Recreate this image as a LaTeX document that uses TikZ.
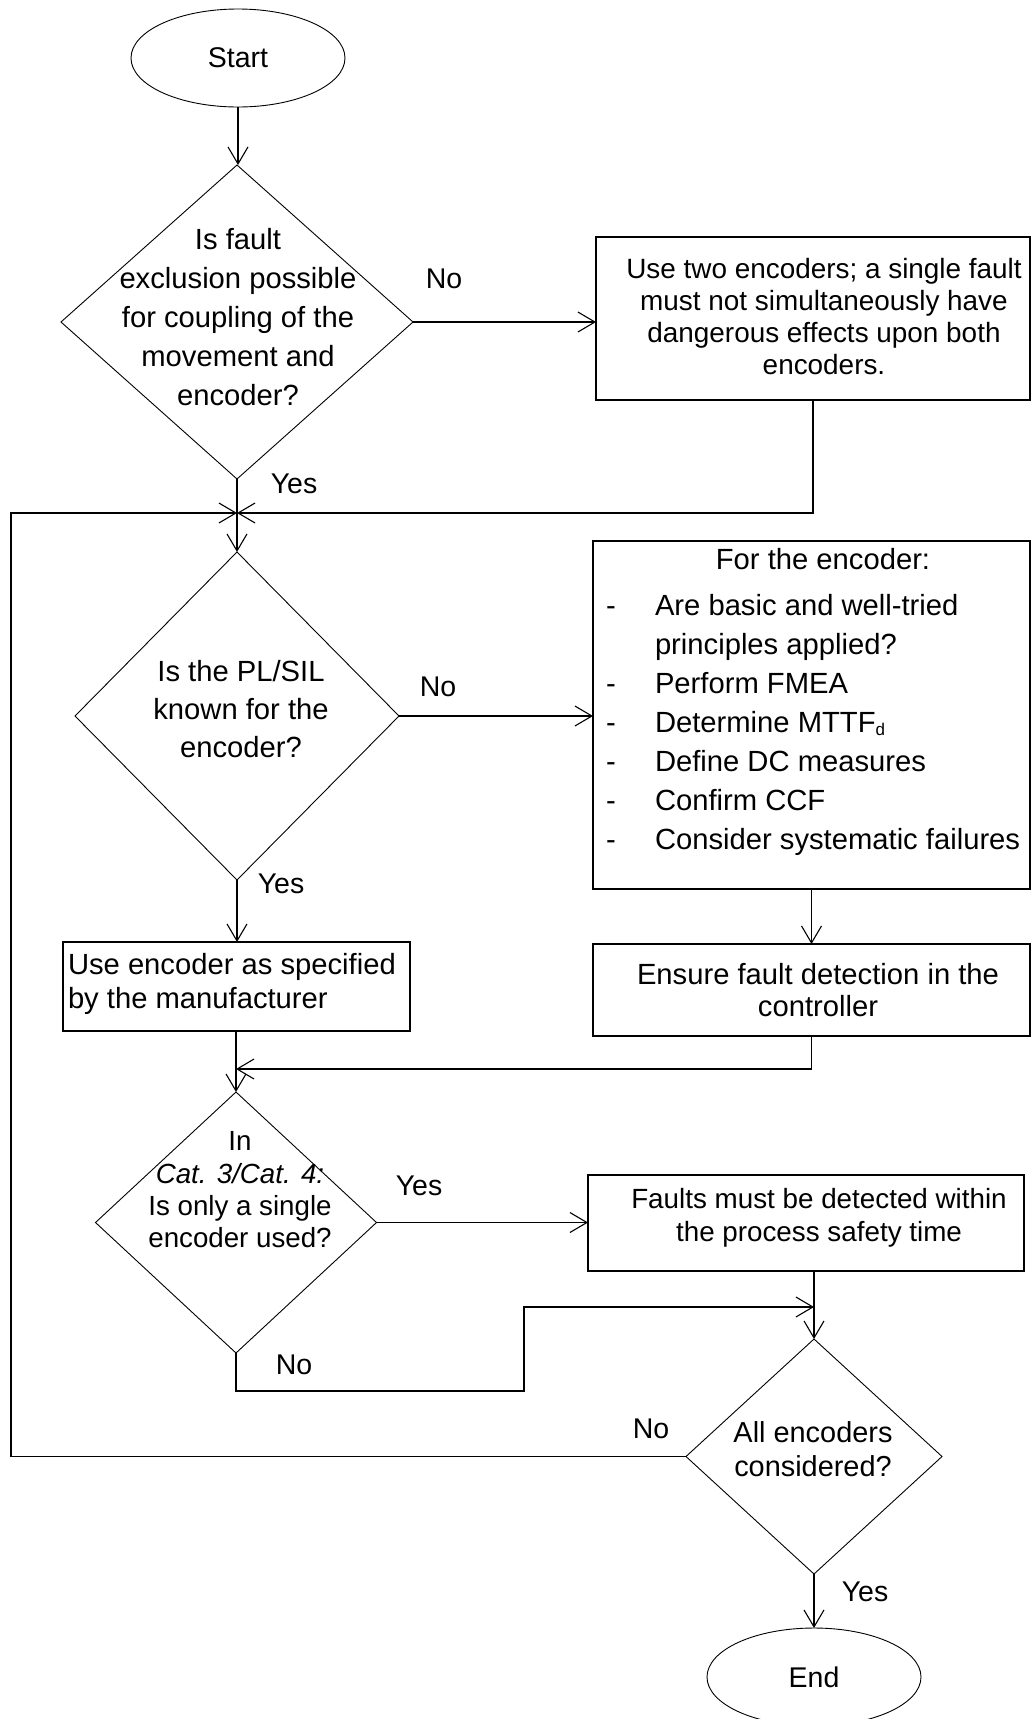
\documentclass[tikz,border=0pt]{standalone}
\usepackage{fontspec}
\setmainfont{Liberation Sans}
\usetikzlibrary{shapes.geometric,arrows.meta,calc}

\begin{document}
\begin{tikzpicture}[x=1pt,y=-1pt,
  every node/.style={inner sep=0pt, outer sep=0pt},
  terminal/.style={ellipse, draw, line width=0.9pt, minimum width=214pt,
    minimum height=98pt, font=\fontsize{28.5}{33}\selectfont},
  decision/.style={diamond, draw, line width=0.9pt},
  stepbox/.style={rectangle, draw, line width=1.3pt},
  txt/.style={align=center},
  answer/.style={font=\fontsize{28.5}{33}\selectfont},
  flow/.style={line width=1.3pt, -{Straight Barb[length=17pt,width=20pt,line width=1.1pt]}},
]
\path[use as bounding box] (0,0) rectangle (1032,1719);

% terminals
\node[terminal] (start) at (238,58) {Start};
\node[terminal] (stop) at (814,1677) {End};

% first decision and its "No" branch
\node[decision, minimum width=352pt, minimum height=314pt] (d1) at (237,322) {};
\node[txt, font=\fontsize{29.2}{39.2}\selectfont] (d1q) at (238,317)
  {Is fault\\exclusion possible\\for coupling of the\\movement and\\encoder?};
\node[stepbox, minimum width=434pt, minimum height=163pt] (b1) at (813,318.5) {};
\node[txt, font=\fontsize{27.9}{32}\selectfont] (b1t) at (824,317)
  {Use two encoders; a single fault\\must not simultaneously have\\dangerous effects upon both\\encoders.};

% second decision
\node[decision, minimum width=324pt, minimum height=328pt] (d2) at (237,716) {};
\node[txt, font=\fontsize{29.2}{38}\selectfont] (d2q) at (241,709)
  {Is the PL/SIL\\known for the\\encoder?};
\node[stepbox, minimum width=437pt, minimum height=348pt] (b2) at (811.5,715) {};
\node[font=\fontsize{29.2}{35}\selectfont] (b2h) at (823,559) {For the encoder:};
\node[anchor=west, align=left, font=\fontsize{29.2}{38.9}\selectfont] (b2list) at (606,725)
  {\makebox[49pt][l]{-}Are basic and well-tried\\
   \hspace*{49pt}principles applied?\\
   \makebox[49pt][l]{-}Perform FMEA\\
   \makebox[49pt][l]{-}Determine MTTF{\fontsize{17}{20}\selectfont\raisebox{-3pt}{d}}\\
   \makebox[49pt][l]{-}Define DC measures\\
   \makebox[49pt][l]{-}Confirm CCF\\
   \makebox[49pt][l]{-}Consider systematic failures};
\node[stepbox, minimum width=347pt, minimum height=89pt] (b3) at (236.5,986.5) {};
\node[anchor=west, align=left, font=\fontsize{29.2}{34}\selectfont] (b3t) at (68,984)
  {Use encoder as specified\\by the manufacturer};
\node[stepbox, minimum width=437pt, minimum height=92pt] (b4) at (811.5,990) {};
\node[txt, font=\fontsize{29.2}{32.5}\selectfont] (b4t) at (818,990)
  {Ensure fault detection in the\\controller};

% third decision
\node[decision, minimum width=281pt, minimum height=261pt] (d3) at (236,1222.5) {};
\node[txt, font=\fontsize{27.7}{32.3}\selectfont] (d3q) at (240,1190)
  {In\\\textit{Cat. 3/Cat. 4:}\\Is only a single\\encoder used?};
\node[stepbox, minimum width=436pt, minimum height=96pt] (b5) at (806,1223) {};
\node[txt, font=\fontsize{27.8}{33}\selectfont] (b5t) at (819,1218)
  {Faults must be detected within\\the process safety time};

% fourth decision
\node[decision, minimum width=256pt, minimum height=235pt] (d4) at (814,1456.5) {};
\node[txt, font=\fontsize{28.9}{34.5}\selectfont] (d4q) at (813,1449)
  {All encoders\\considered?};

% branch labels
\node[answer] (l1no) at (444,279) {No};
\node[answer] (l1yes) at (294,484) {Yes};
\node[answer] (l2no) at (438,687) {No};
\node[answer] (l2yes) at (281,884) {Yes};
\node[answer] (l3yes) at (419,1186) {Yes};
\node[answer] (l3no) at (294,1365) {No};
\node[answer] (l4no) at (651,1429) {No};
\node[answer] (l4yes) at (865,1592) {Yes};

% junction points
\coordinate (m1) at (237,513);
\coordinate (m2) at (236,1069);
\coordinate (m3) at (814,1307);
\coordinate (back) at (11,513);
\coordinate (jog) at (524,1391);

% connectors
\draw[flow] (start.south) -- (start.south |- d1.north);
\draw[flow] (d1.east) -- (d1.east -| b1.west);
\draw[flow] (b1.south) -- (b1.south |- m1) -- (m1);
\draw[flow] (d1.south) -- (d2.north);
\draw[flow] (d4.west) -- (d4.west -| back) -- (back) -- (m1);
\draw[flow] (d2.east) -- (d2.east -| b2.west);
\draw[flow] (d2.south) -- (d2.south |- b3.north);
\draw[flow] (b2.south) -- (b4.north);
\draw[flow] (b4.south) -- (b4.south |- m2) -- (m2);
\draw[flow] (b3.south -| d3.north) -- (d3.north);
\draw[flow] (d3.east) -- (d3.east -| b5.west);
\draw[flow] (b5.south -| d4.north) -- (d4.north);
\draw[flow] (d3.south) |- (jog) |- (m3);
\draw[flow] (d4.south) -- (stop.north);
\end{tikzpicture}
\end{document}
